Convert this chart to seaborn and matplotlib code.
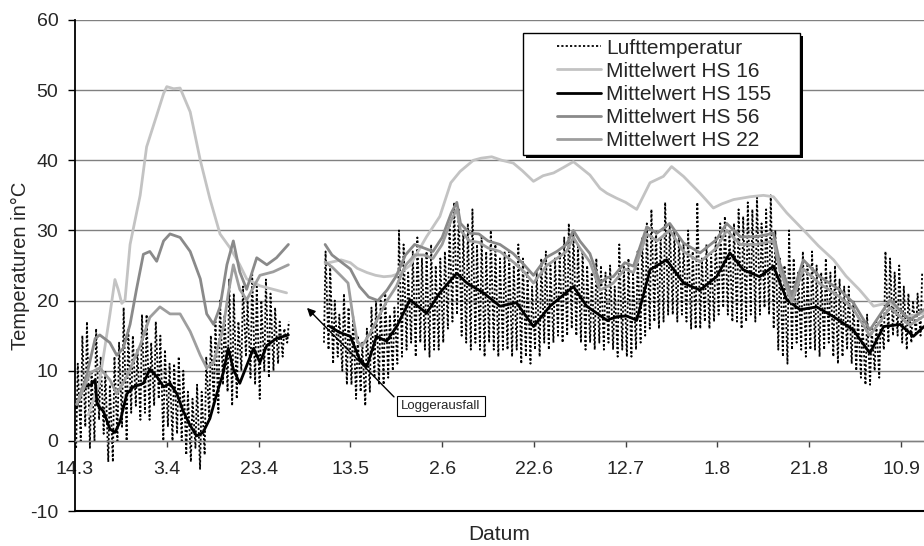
import numpy as np
import pandas as pd
import matplotlib
matplotlib.use("Agg")
import matplotlib.pyplot as plt
import seaborn as sns
from matplotlib.lines import Line2D
from matplotlib.patches import Rectangle

# ---------------- data (days after 14.3) ----------------
tick_days = [0, 20, 40, 60, 80, 100, 120, 140, 160, 180]
tick_labels = ["14.3", "3.4", "23.4", "13.5", "2.6", "22.6", "12.7", "1.8", "21.8", "10.9"]

# Lufttemperatur: daily minima / maxima, segment 1 starts day 0, segment 2 starts day 54
air1_start = 0
air1_min = [-1, 0, 2, -1, 0, 3, 1, -3, -3, 0,
            2, 0, 4, 5, 3, 4, 3, 5, 6, 0,
            2, 0, 1, 0, -2, -3, -1, -4, -2, 3,
            5, 4, 8, 7, 5, 6, 10, 12, 9, 8,
            6, 10, 9, 10, 11, 12, 14]
air1_max = [11, 15, 17, 10, 16, 12, 10, 8, 12, 14,
            19, 16, 15, 13, 18, 18, 14, 17, 15, 13,
            11, 11, 12, 10, 7, 6, 8, 7, 12, 15,
            17, 20, 18, 23, 21, 17, 22, 20, 24, 22,
            20, 23, 21, 19, 17, 16, 17]
air2_start = 54
air2_max = [27, 25, 20, 18, 21, 19, 18, 15, 14, 16,
            19, 20, 20, 21, 18, 19, 30, 28, 24, 27,
            29, 26, 27, 28, 25, 26, 27, 31, 34, 33,
            30, 31, 33, 28, 29, 27, 30, 28, 26, 27,
            27, 25, 28, 26, 24, 22, 24, 26, 27, 25,
            26, 27, 29, 31, 30, 28, 27, 25, 24, 26,
            25, 24, 25, 22, 28, 25, 26, 24, 27, 29,
            31, 33, 30, 29, 34, 31, 30, 29, 28, 30,
            27, 34, 26, 28, 27, 29, 31, 32, 30, 31,
            33, 32, 34, 33, 35, 31, 33, 35, 30, 26,
            25, 30, 26, 24, 27, 25, 27, 25, 24, 26,
            24, 25, 23, 22, 22, 20, 18, 17, 18, 16,
            17, 18, 27, 26, 24, 25, 22, 21, 20, 21,
            24]
air2_min = [14, 13, 11, 12, 10, 8, 8, 6, 7, 5,
            7, 9, 8, 8, 9, 10, 11, 12, 13, 14,
            12, 14, 13, 12, 13, 13, 14, 16, 17, 18,
            15, 14, 13, 14, 13, 12, 14, 13, 12, 13,
            13, 12, 13, 11, 12, 11, 13, 12, 14, 13,
            14, 15, 14, 15, 16, 15, 14, 13, 14, 13,
            14, 13, 14, 13, 12, 13, 12, 12, 13, 14,
            15, 16, 17, 16, 17, 18, 18, 17, 18, 17,
            16, 16, 16, 17, 16, 17, 18, 19, 18, 17,
            17, 16, 17, 18, 17, 18, 19, 18, 16, 13,
            12, 11, 13, 14, 13, 12, 13, 13, 12, 13,
            14, 12, 11, 12, 13, 11, 10, 9, 8, 8,
            10, 9, 13, 14, 15, 15, 14, 13, 14, 15,
            15]

# Mittelwert HS 16
hs16_d1 = [2.9, 5.3, 7.6, 8.7, 9.4, 10.2, 10.9, 12.0, 14.2, 15.6, 17.8, 19.3, 20.0, 21.5,
           22.9, 25.1, 27.3, 29.4, 31.6, 33.8, 35.9, 37.4, 40.3, 43.2, 46.1]
hs16_v1 = [3.7, 8.2, 18.0, 23.0, 21.6, 19.6, 20.1, 28.0, 35.0, 41.9, 46.4, 49.5, 50.5, 50.2,
           50.3, 46.9, 40.0, 34.5, 29.5, 27.5, 25.1, 23.1, 22.1, 21.6, 21.1]
hs16_d2 = [54.5, 56, 58, 60, 61.5, 63.6, 65.5, 67.3, 69, 70.8, 73, 76.6, 79.5, 81.9, 83.9,
           86.8, 88.5, 90.8, 93, 95.5, 97.5, 99.9, 102, 104.3, 106.5, 108.6, 110.5, 112.2,
           114.4, 115.9, 118, 120, 122.4, 125.3, 128.2, 130, 132.6, 136.2, 139.1, 141,
           143.5, 147.1, 150, 152.2, 155.1, 159.4, 162, 165.3, 168, 171, 174, 176, 177.6,
           181.2, 185]
hs16_v2 = [25.3, 25.5, 25.8, 25.4, 24.6, 24.0, 23.6, 23.4, 23.5, 23.9, 25.0, 29.1, 32.0,
           36.8, 38.4, 40.0, 40.3, 40.5, 40.0, 39.6, 38.5, 37.0, 37.8, 38.2, 39.0, 39.8,
           38.8, 37.9, 36.0, 35.3, 34.6, 34.0, 33.0, 36.8, 37.7, 39.1, 37.7, 35.3, 33.2,
           33.8, 34.4, 34.8, 35.0, 34.8, 32.5, 29.6, 27.8, 25.8, 23.5, 21.5, 19.2, 19.5,
           19.7, 17.7, 18.2]

# Mittelwert HS 155
hs155_d1 = [0.2, 1.9, 3.5, 4.4, 4.8, 6.2, 7.6, 8.7, 9.8, 11.3, 12.7, 14.9, 16.3, 17.8, 19.3,
            20.7, 22.2, 23.6, 25.1, 26.5, 27.9, 29.4, 30.9, 32.3, 33.4, 34.5, 35.9, 37.4,
            38.9, 40.3, 41.8, 43.9, 46.5]
hs155_v1 = [4.7, 7.7, 8.0, 8.7, 5.2, 4.2, 1.7, 1.2, 2.7, 6.7, 7.7, 8.2, 10.2, 9.2, 7.7,
            8.2, 6.7, 4.2, 2.2, 0.7, 1.2, 3.2, 6.7, 9.7, 13.2, 10.2, 8.2, 10.7, 13.2, 11.2,
            13.6, 14.6, 15.1]
hs155_d2 = [55.6, 57.5, 60.0, 62.1, 63.6, 65.7, 67.9, 70.1, 73.0, 76.6, 79.5, 83.2, 85.4,
            89.0, 92.6, 96.2, 99.9, 103.5, 108.6, 111.5, 115.9, 118.0, 120.2, 122.4, 125.3,
            128.9, 132.6, 136.2, 139.8, 142.7, 145.6, 149.2, 152.2, 155.1, 158.0, 161.6,
            165.3, 169.6, 173.2, 176.2, 179.8, 182.7, 185]
hs155_v2 = [16.3, 15.5, 14.9, 11.5, 10.6, 14.9, 14.2, 16.3, 20.1, 18.2, 21.1, 23.9, 22.5,
            21.1, 19.2, 19.7, 16.3, 19.2, 22.0, 19.2, 17.2, 17.7, 17.8, 17.2, 24.4, 25.8,
            22.5, 21.5, 23.4, 26.8, 24.4, 23.4, 24.9, 20.1, 18.7, 19.1, 17.7, 15.8, 12.5,
            16.3, 16.6, 14.9, 16.3]

# Mittelwert HS 56
hs56_d1 = [0.4, 2.5, 4.4, 5.4, 7.6, 9.1, 10.5, 12.0, 13.4, 14.9, 16.3, 17.8, 19.3, 20.7,
           22.9, 25.1, 27.3, 28.7, 30.2, 31.6, 33.1, 34.5, 35.9, 37.4, 39.6, 41.8, 43.9, 46.5]
hs56_v1 = [5.2, 9.2, 14.6, 15.1, 14.0, 12.2, 13.2, 16.6, 21.6, 26.6, 27.0, 25.6, 28.5, 29.5,
           29.0, 27.0, 23.1, 18.1, 16.6, 19.1, 25.1, 28.5, 24.1, 21.6, 26.1, 25.1, 26.1, 28.0]
hs56_d2 = [54.5, 56, 58, 60, 62, 64, 66, 68, 70, 72, 74, 76, 78, 80, 82, 83.2, 84, 86, 88,
           90, 92.6, 95.5, 98, 99.9, 102.8, 105, 107.1, 108.6, 110, 112.2, 114.4, 116,
           117.3, 119.8, 121.7, 124.6, 126.8, 129.6, 132.6, 136.2, 139.8, 142, 145, 148.5,
           152.2, 153.6, 156.2, 158.7, 162.3, 166.7, 169.6, 173.2, 177.6, 181.9, 185]
hs56_v2 = [28.0, 26.5, 25.5, 24.5, 22.0, 20.5, 20.0, 21.5, 23.5, 26.5, 28.0, 27.5, 27.0,
           29.0, 32.5, 34.0, 31.0, 29.6, 29.5, 28.5, 28.0, 26.7, 25.0, 23.6, 26.2, 27.0,
           28.0, 30.0, 28.5, 26.7, 22.5, 23.3, 23.4, 25.4, 24.9, 30.5, 29.6, 31.0, 28.2,
           26.8, 28.7, 31.0, 29.1, 29.1, 29.6, 25.3, 20.6, 25.8, 23.4, 21.5, 19.7, 15.8,
           20.1, 17.2, 18.7]

# Mittelwert HS 22
hs22_d1 = [0.4, 3.3, 5.4, 7.6, 9.1, 11.3, 14.2, 16.3, 18.5, 20.7, 22.9, 25.1, 27.3, 28.7,
           30.2, 32.3, 33.4, 34.5, 35.9, 37.4, 40.3, 43.2, 46.5]
hs22_v1 = [5.2, 9.7, 10.4, 8.7, 6.7, 9.2, 13.6, 17.6, 19.1, 18.1, 18.1, 15.6, 12.2, 10.4,
           11.2, 16.1, 21.0, 25.1, 21.6, 20.1, 23.6, 24.1, 25.1]
hs22_d2 = [54.5, 56, 58, 59.5, 60.5, 61.5, 62.5, 64, 66, 68, 70, 72, 74, 76, 78, 80, 82,
           83.2, 84, 86, 88, 90, 92.6, 95.5, 98, 99.9, 102.8, 105, 107.1, 108.6, 110, 112.2,
           114.4, 116, 117.3, 119.8, 121.7, 124.6, 126.8, 129.6, 132.6, 136.2, 139.8, 142,
           145, 148.5, 152.2, 153.6, 156.2, 158.7, 162.3, 166.7, 169.6, 173.2, 177.6, 181.9,
           185]
hs22_v2 = [25.5, 24.8, 23.5, 22.5, 18.0, 14.2, 13.5, 15.0, 17.5, 20.0, 22.0, 25.0, 26.5,
           26.5, 26.0, 28.0, 31.5, 33.0, 30.0, 28.5, 28.3, 27.5, 27.0, 25.5, 24.0, 22.5,
           25.0, 26.0, 27.0, 29.0, 27.5, 25.5, 21.5, 22.0, 22.5, 24.5, 24.0, 29.5, 28.5,
           30.0, 27.0, 25.5, 27.5, 30.0, 28.0, 28.0, 28.5, 24.3, 19.8, 24.5, 22.4, 20.5,
           18.8, 15.0, 19.0, 16.5, 17.8]

series_names = ["Lufttemperatur", "Mittelwert HS 16", "Mittelwert HS 155",
                "Mittelwert HS 56", "Mittelwert HS 22"]

# ---------------- build frames ----------------
def air_frame(start, mins, maxs, seg):
    days = np.arange(start, start + len(mins))
    x = np.column_stack([days + 0.25, days + 0.6]).ravel()
    y = np.column_stack([mins, maxs]).ravel()
    return pd.DataFrame({"day": x, "temp": y, "seg": seg})

def seg_frame(parts):
    return pd.concat([pd.DataFrame({"day": d, "temp": v, "seg": i})
                      for i, (d, v) in enumerate(parts)], ignore_index=True)

air_df = pd.concat([air_frame(air1_start, air1_min, air1_max, 0),
                    air_frame(air2_start, air2_min, air2_max, 1)], ignore_index=True)
hs16_df = seg_frame([(hs16_d1, hs16_v1), (hs16_d2, hs16_v2)])
hs155_df = seg_frame([(hs155_d1, hs155_v1), (hs155_d2, hs155_v2)])
hs56_df = seg_frame([(hs56_d1, hs56_v1), (hs56_d2, hs56_v2)])
hs22_df = seg_frame([(hs22_d1, hs22_v1), (hs22_d2, hs22_v2)])

# ---------------- styling ----------------
sns.set_style("white")
plt.rcParams["font.family"] = ["Liberation Sans", "DejaVu Sans"]
plt.rcParams["axes.unicode_minus"] = False

W, H = 924, 546
fig = plt.figure(figsize=(W / 100, H / 100), dpi=100)
ax = fig.add_axes([75 / W, 1 - 511 / H, 849 / W, 491 / H])

colors = {"air": "black", "hs16": "#c3c3c3", "hs155": "black",
          "hs56": "#8a8a8a", "hs22": "#9e9e9e"}
dot = (0, (1.2, 1.2))

sns.lineplot(data=air_df, x="day", y="temp", units="seg", estimator=None,
             color=colors["air"], lw=1.3, linestyle=dot, legend=False, ax=ax, zorder=2)
sns.lineplot(data=hs16_df, x="day", y="temp", units="seg", estimator=None,
             color=colors["hs16"], lw=2.0, legend=False, ax=ax, zorder=3)
sns.lineplot(data=hs155_df, x="day", y="temp", units="seg", estimator=None,
             color=colors["hs155"], lw=2.0, legend=False, ax=ax, zorder=3)
sns.lineplot(data=hs56_df, x="day", y="temp", units="seg", estimator=None,
             color=colors["hs56"], lw=2.0, legend=False, ax=ax, zorder=3)
sns.lineplot(data=hs22_df, x="day", y="temp", units="seg", estimator=None,
             color=colors["hs22"], lw=2.0, legend=False, ax=ax, zorder=3)

ax.set_xlim(0, 185.0)
ax.set_ylim(-10, 60)
ax.set_yticks(range(-10, 61, 10))
ax.set_xticks(tick_days)
ax.set_xticklabels(tick_labels)

ax.set_axisbelow(True)
ax.yaxis.grid(True, color="#808080", lw=1)
ax.xaxis.grid(False)

for s in ["top", "right"]:
    ax.spines[s].set_visible(False)
ax.spines["bottom"].set_position(("data", 0))
ax.spines["bottom"].set_color("#808080")
ax.spines["bottom"].set_linewidth(1)
ax.spines["left"].set_color("black")
ax.spines["left"].set_linewidth(1.3)
ax.axhline(-10, color="black", lw=1.5, clip_on=False, zorder=4)

ax.tick_params(axis="y", left=True, direction="out", length=5, width=1,
               color="black", pad=7, labelsize=14)
ax.tick_params(axis="x", bottom=True, direction="out", length=4.5, width=1,
               color="#404040", pad=10, labelsize=14)

ax.set_ylabel("Temperaturen in°C", fontsize=14.5)
ax.yaxis.label.set_va("center")
ax.yaxis.set_label_coords(-55 / 849, 0.5)
ax.set_xlabel("Datum", fontsize=15)
ax.xaxis.label.set_va("center")
ax.xaxis.set_label_coords(0.5, -23 / 491)

# annotation
ax.text(79.76, 4.99, "Loggerausfall", ha="center", va="center", fontsize=9.5,
        bbox=dict(boxstyle="square,pad=0.3", fc="white", ec="black", lw=0.8), zorder=9)
ax.annotate("", xy=(50.55, 18.96), xytext=(69.51, 6.27),
            arrowprops=dict(arrowstyle="-|>", color="black", lw=1, mutation_scale=12,
                            shrinkA=0, shrinkB=0), zorder=9)

# legend box with shadow
shadow = Rectangle((526 / W, 1 - 158 / H), 277 / W, 122 / H, transform=fig.transFigure,
                   fc="black", ec="black", lw=0, clip_on=False, zorder=10)
frame = Rectangle((523 / W, 1 - 155 / H), 277 / W, 122 / H, transform=fig.transFigure,
                  fc="white", ec="black", lw=1, clip_on=False, zorder=10.5)
ax.add_patch(shadow)
ax.add_patch(frame)

handles = [Line2D([], [], color=colors["air"], lw=1.3, linestyle=dot),
           Line2D([], [], color=colors["hs16"], lw=2.0),
           Line2D([], [], color=colors["hs155"], lw=2.0),
           Line2D([], [], color=colors["hs56"], lw=2.0),
           Line2D([], [], color=colors["hs22"], lw=2.0)]
leg = ax.legend(handles, series_names, loc="upper left",
                bbox_to_anchor=(557 / W, 1 - 38.5 / H), bbox_transform=fig.transFigure,
                frameon=False, borderpad=0, borderaxespad=0, handlelength=2.1,
                handletextpad=0.25, labelspacing=0.2, fontsize=15)
leg.set_zorder(12)

fig.savefig("out.png", dpi=100)
